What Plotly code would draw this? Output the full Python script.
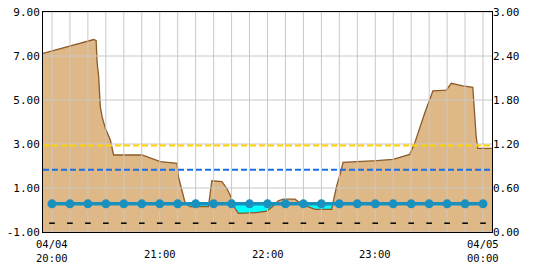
import plotly.graph_objects as go

# Time axis: minutes after 04/04 20:00
brown_t = [-5, 23.3, 24.6, 25.1, 26, 26.9, 27.9, 29.7, 32.5, 34.3, 50.1, 60.3, 69.6, 70.4,
           72.3, 74.2, 76.9, 87.1, 88.1, 89, 94.6, 97.3, 99.2, 101.9, 103.8, 114, 119.6,
           123.2, 126, 128.8, 135.3, 137.1, 141.8, 146.4, 155.7, 156.6, 158.4, 160.3, 162.1,
           180.7, 189.9, 199.2, 201.9, 207.5, 212.1, 219.6, 222.3, 228.8, 234.3, 235.3,
           236.2, 237.1, 245]
brown_v = [7.12, 7.75, 7.7, 6.74, 6.06, 4.70, 4.24, 3.71, 3.18, 2.50, 2.50, 2.20, 2.12, 1.51,
           0.91, 0.30, 0.15, 0.15, 0.76, 1.33, 1.29, 0.99, 0.68, 0.08, -0.15, -0.12, -0.05,
           0.18, 0.42, 0.49, 0.49, 0.38, 0.18, 0.03, 0.03, 0.38, 1.06, 1.59, 2.17,
           2.24, 2.30, 2.53, 3.03, 4.40, 5.42, 5.45, 5.76, 5.64, 5.58, 4.40,
           3.33, 2.80, 2.80]

step_t = [i * 10 for i in range(25)]
level_v = [0.28] * 25
low_v = [-0.6] * 25

yellow_level = 1.18  # right axis
blue_level = 0.85    # right axis

left_ticks = [-1, 1, 3, 5, 7, 9]
right_ticks = [0, 0.6, 1.2, 1.8, 2.4, 3.0]
label_t = [0, 60, 120, 180, 240]
label_top = ["04/04", "", "", "", "04/05"]
label_bottom = ["20:00", "21:00", "22:00", "23:00", "00:00"]

X_RANGE = [-5, 245]
Y_RANGE = [-1, 9]
FONT = "DejaVu Sans Mono"

fig = go.Figure()
# cyan region (below the level line)
fig.add_trace(go.Scatter(x=step_t, y=[Y_RANGE[0]] * len(step_t), mode="lines", line=dict(width=0),
                         showlegend=False, hoverinfo="skip"))
fig.add_trace(go.Scatter(x=step_t, y=level_v, mode="lines", line=dict(width=0),
                         fill="tonexty", fillcolor="#00ffff", showlegend=False))
# brown area
fig.add_trace(go.Scatter(x=brown_t, y=[Y_RANGE[0]] * len(brown_t), mode="lines", line=dict(width=0),
                         showlegend=False, hoverinfo="skip"))
fig.add_trace(go.Scatter(x=brown_t, y=brown_v, mode="lines", line=dict(color="#8c5a28", width=1.3),
                         fill="tonexty", fillcolor="#deb887", showlegend=False))

# grid drawn over the fills
gx, gy = [], []
for t in step_t:
    gx += [t, t, None]
    gy += [Y_RANGE[0], Y_RANGE[1], None]
for v in left_ticks:
    gx += [X_RANGE[0], X_RANGE[1], None]
    gy += [v, v, None]
fig.add_trace(go.Scatter(x=gx, y=gy, mode="lines", line=dict(color="#c8c8c8", width=1),
                         showlegend=False, hoverinfo="skip"))

# thresholds on right axis
fig.add_trace(go.Scatter(x=X_RANGE, y=[yellow_level] * 2, mode="lines", yaxis="y2",
                         line=dict(color="#ffd200", width=2, dash="6px,3px"), showlegend=False))
fig.add_trace(go.Scatter(x=X_RANGE, y=[blue_level] * 2, mode="lines", yaxis="y2",
                         line=dict(color="#1a6fe6", width=2, dash="6px,3px"), showlegend=False))
# black short dashes
fig.add_trace(go.Scatter(x=step_t, y=low_v, mode="markers",
                         marker=dict(symbol="line-ew", size=4, line=dict(color="black", width=1.5)),
                         showlegend=False))
# level line with markers
fig.add_trace(go.Scatter(x=step_t, y=level_v, mode="lines+markers",
                         line=dict(color="#1a90bf", width=3.5),
                         marker=dict(color="#1a90bf", size=9), showlegend=False))

annotations = []
for t, top, bot in zip(label_t, label_top, label_bottom):
    if top:
        annotations.append(dict(x=t, y=0, xref="x", yref="paper", text=top + "<br>" + bot,
                                showarrow=False, yanchor="middle", yshift=-18.5,
                                font=dict(family=FONT, size=10.5)))
    else:
        annotations.append(dict(x=t, y=0, xref="x", yref="paper", text=bot, showarrow=False,
                                yanchor="middle", yshift=-22, font=dict(family=FONT, size=10.5)))

fig.update_layout(
    width=550, height=265,
    margin=dict(l=42.5, r=58, t=12, b=33),
    plot_bgcolor="white", paper_bgcolor="white",
    font=dict(family=FONT, size=11, color="black"),
    annotations=annotations,
    xaxis=dict(range=X_RANGE, showticklabels=False, automargin=False,
               showgrid=False, showline=True, linecolor="black", linewidth=1, mirror=True,
               ticks="", zeroline=False, layer="above traces"),
    yaxis=dict(range=Y_RANGE, tickmode="array", tickvals=left_ticks,
               ticktext=[f"{v:.2f}" for v in left_ticks], automargin=False,
               showgrid=False, showline=True, linecolor="black", linewidth=1, mirror=True,
               ticks="", zeroline=False, layer="above traces"),
    yaxis2=dict(range=[0, 3], overlaying="y", side="right", tickmode="array",
                tickvals=right_ticks, ticktext=[f"{v:.2f}" for v in right_ticks],
                automargin=False,
                showgrid=False, zeroline=False, ticks="", showline=False),
)

fig.write_html("out.html")
